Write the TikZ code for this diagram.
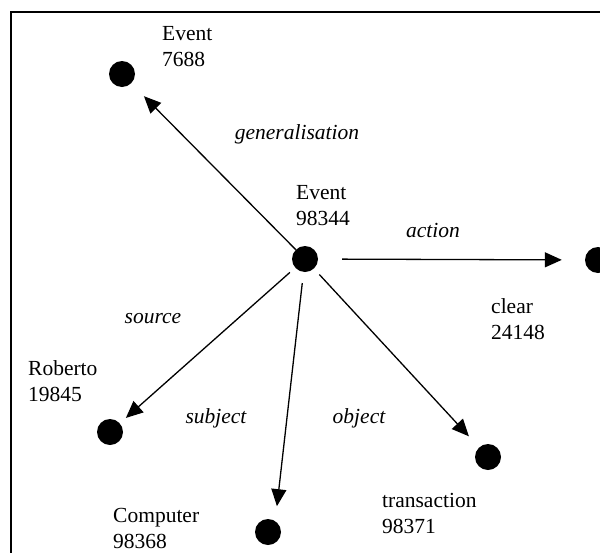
\documentclass[tikz,border=0pt]{standalone}
\usepackage{fontspec}
\setmainfont{Liberation Serif}
\usetikzlibrary{arrows.meta}
\begin{document}
\begin{tikzpicture}[x=1pt,y=-1pt,
  dotnode/.style={circle,fill=black,draw=none,inner sep=0pt,minimum size=26pt},
  connline/.style={line width=1.3pt,-{Triangle[length=17pt,width=15pt]}},
  nametext/.style={anchor=north west,inner sep=0pt,align=left,font=\fontsize{21.5}{26.5}\selectfont},
  reltext/.style={anchor=base,inner sep=0pt,font=\fontsize{21.5}{26.5}\selectfont\itshape}]
\useasboundingbox (0,0) rectangle (600,552);
\clip (0,0) rectangle (600,552);
\draw[line width=2pt] (11,12) rectangle (640,600);
% dots
\node[dotnode] (c) at (305,259) {};
\node[dotnode] (gen) at (122,74) {};
\node[dotnode] (act) at (598,260) {};
\node[dotnode] (src) at (110,432) {};
\node[dotnode] (sub) at (268,532) {};
\node[dotnode] (obj) at (488,457) {};
% names
\node[nametext] (tgen) at (162,26) {Event\\7688};
\node[nametext] (tc) at (296,185) {Event\\98344};
\node[nametext] (tact) at (491,298) {clear\\24148};
\node[nametext] (tsrc) at (28,360) {Roberto\\19845};
\node[nametext] (tsub) at (113,508) {Computer\\98368};
\node[nametext] (tobj) at (382,493) {transaction\\98371};
% connectors
\draw[connline,shorten >=18pt] (c) -- (gen);
\draw[connline,shorten <=24pt,shorten >=23pt] (c) -- (act);
\draw[connline,shorten <=7pt,shorten >=8pt] (c) -- (src);
\draw[connline,shorten <=11pt,shorten >=26pt] (c) -- ([xshift=6pt]sub.center);
\draw[connline,shorten <=8pt,shorten >=15pt] (c) -- (obj);
% relation labels
\node[reltext] (lgen) at (297,139) {generalisation};
\node[reltext] (lact) at (433,237) {action};
\node[reltext] (lsrc) at (153,323) {source};
\node[reltext] (lsub) at (216,423) {subject};
\node[reltext] (lobj) at (359,423) {object};
\end{tikzpicture}
\end{document}
